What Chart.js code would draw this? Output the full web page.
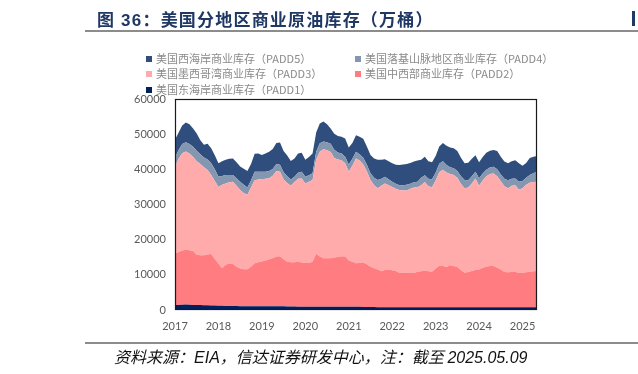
<!DOCTYPE html>
<html><head><meta charset="utf-8">
<script src="https://cdn.jsdelivr.net/npm/chart.js@4.4.0/dist/chart.umd.min.js"></script>
<style>
html,body{margin:0;padding:0;background:#fff;width:638px;height:374px;overflow:hidden;position:relative;font-family:"Noto Sans CJK SC",sans-serif;}
#c{position:absolute;left:0;top:0;}
.title{position:absolute;left:97px;top:8px;font-size:17px;font-weight:bold;color:#1F3864;letter-spacing:1.2px;white-space:nowrap;line-height:22px;font-family:"Liberation Sans","Noto Sans CJK SC",sans-serif;}
.title .cjk{font-family:"Noto Sans CJK SC",sans-serif;}
.hline{position:absolute;left:85px;right:0;height:2px;background:#8c8c8c;}
.leg{position:absolute;font-size:11px;color:#8a8a8a;white-space:nowrap;line-height:14px;font-family:"Noto Sans CJK SC",sans-serif;}
.leg i{display:inline-block;width:6px;height:6px;margin-right:4px;vertical-align:1px;}
.src{position:absolute;left:114px;top:346px;font-size:16px;font-style:italic;color:#111;white-space:nowrap;line-height:21px;font-family:"Noto Sans CJK SC",sans-serif;}
.src .lat{font-family:"Liberation Sans",sans-serif;}
.bar{position:absolute;left:632px;top:11px;width:3px;height:15px;background:#1F3864;}
</style></head>
<body>
<canvas id="c" width="638" height="374"></canvas>
<div class="title">图 36：<span class="cjk">美国分地区商业原油库存（万桶）</span></div>
<div class="bar"></div>
<div class="hline" style="top:30px"></div>
<div id="legend"></div>
<div class="hline" style="top:342px"></div>
<div class="src">资料来源：<span class="lat">EIA</span>，信达证券研发中心，注：截至 <span class="lat">2025.05.09</span></div>
<script>
const categories = [
"2017-01","2017-02","2017-03","2017-04","2017-05","2017-06","2017-07","2017-08","2017-09","2017-10","2017-11","2017-12",
"2018-01","2018-02","2018-03","2018-04","2018-05","2018-06","2018-07","2018-08","2018-09","2018-10","2018-11","2018-12",
"2019-01","2019-02","2019-03","2019-04","2019-05","2019-06","2019-07","2019-08","2019-09","2019-10","2019-11","2019-12",
"2020-01","2020-02","2020-03","2020-04","2020-05","2020-06","2020-07","2020-08","2020-09","2020-10","2020-11","2020-12",
"2021-01","2021-02","2021-03","2021-04","2021-05","2021-06","2021-07","2021-08","2021-09","2021-10","2021-11","2021-12",
"2022-01","2022-02","2022-03","2022-04","2022-05","2022-06","2022-07","2022-08","2022-09","2022-10","2022-11","2022-12",
"2023-01","2023-02","2023-03","2023-04","2023-05","2023-06","2023-07","2023-08","2023-09","2023-10","2023-11","2023-12",
"2024-01","2024-02","2024-03","2024-04","2024-05","2024-06","2024-07","2024-08","2024-09","2024-10","2024-11","2024-12",
"2025-01","2025-02","2025-03","2025-04","2025-05"];

const yearTickLabels = ["2017","2018","2019","2020","2021","2022","2023","2024","2025"];

// 美国东海岸商业库存（PADD1）
const padd1 = [
1400,1450,1500,1550,1500,1450,1400,1400,1350,1350,1300,1250,
1200,1200,1150,1150,1150,1150,1100,1100,1100,1100,1100,1100,
1100,1050,1050,1050,1050,1050,1050,1000,1000,1000,950,950,
900,900,900,950,950,950,950,950,950,950,950,950,
900,900,900,900,850,850,850,850,800,800,800,800,
800,750,750,750,750,750,750,750,750,750,750,750,
750,750,750,750,750,750,750,750,750,750,750,750,
750,750,750,750,750,750,750,750,750,750,750,750,
750,750,750,750,750];

// 美国中西部商业库存（PADD2）
const padd2 = [
14700,15050,15400,15550,15500,15350,14300,14200,14250,14450,14600,13250,
12000,10700,11750,12050,11950,11150,10700,10500,10500,11200,12200,12500,
12700,13050,13350,13650,14150,14250,13350,12700,12600,12600,12750,12550,
12500,12500,12800,15050,14250,13750,13750,13750,13950,14150,14350,14250,
13200,12800,12400,12500,12650,12150,11450,11050,10700,10200,10600,10700,
10500,10350,9750,9750,9850,9750,9750,10150,10250,10450,10250,10150,
11050,11850,11750,11450,11950,11750,11450,10550,9850,10050,10350,10650,
10750,11250,11550,11750,11750,11250,10750,10050,9950,10050,10150,9750,
9850,9950,10150,10250,10350];

// 美国墨西哥湾商业库存（PADD3）
const padd3 = [
24700,26500,27700,28000,27500,26700,26600,25900,25000,24000,22500,22200,
21800,23700,23100,23100,23400,23000,22300,21700,21200,22500,23600,23500,
23400,23200,23100,23500,24300,24000,22700,22400,21700,22800,23600,23900,
22600,23100,23300,26800,29800,31000,30700,30200,28300,27700,27300,26500,
25300,27300,29800,29100,27900,26400,24700,23600,23100,24300,24600,24000,
23700,23400,23600,23500,23400,24000,24300,24000,24500,25200,24200,24000,
25000,26600,27400,26900,26000,25900,25400,24500,24000,24000,24900,26000,
23800,24800,25700,26200,26300,26000,25100,24400,23900,24500,24600,23700,
24000,24900,25300,25400,25400];

// 美国落基山脉地区商业库存（PADD4）
const padd4 = [
2600,2500,2600,2600,2700,2900,3000,2800,2800,3000,3300,3300,
2900,2500,2400,2100,1900,2200,2400,2300,2000,2000,2400,2200,
2100,2000,2000,1900,2000,2000,2100,1900,1800,1500,1700,1900,
1900,1800,1900,2200,2400,2200,2300,2400,2400,2000,1900,1900,
2000,2000,1900,1800,1900,1900,1900,2100,2400,2000,1900,1700,
1500,1400,1400,1500,1600,1400,1500,1600,2100,1900,2100,2300,
2200,2400,2400,2100,1900,1900,1900,2200,2400,2100,2000,1900,
2200,2000,1900,1800,1900,2000,1900,2100,2300,2000,1900,2300,
2100,2000,2200,2500,2800];

// 美国西海岸商业库存（PADD5）
const padd5 = [
5000,5000,5300,5600,5600,5200,4900,4000,3600,4500,4300,4000,
3800,4200,4300,4600,4700,4500,4300,4600,4700,4700,5100,5200,
4800,5200,5500,5700,6000,6300,6000,5900,5300,5200,5500,5400,
4800,5200,5600,5500,5600,5700,5100,4300,4500,4700,4800,5200,
4800,4500,4700,5000,5400,5200,5200,5500,5700,5400,5000,5100,
5200,5400,5700,5900,5900,5900,5900,6000,5100,5300,5000,4800,
4800,4900,5200,5500,5600,5700,5700,5300,4700,5000,5000,4700,
4500,4700,4800,4800,4800,5200,5100,4900,4800,5000,5200,5200,
4300,4200,4800,4700,4500];

const seriesNames = [
"美国东海岸商业库存（PADD1）",
"美国中西部商业库存（PADD2）",
"美国墨西哥湾商业库存（PADD3）",
"美国落基山脉地区商业库存（PADD4）",
"美国西海岸商业库存（PADD5）"];
const seriesColors = ["#002060","#FF7C80","#FFABAB","#8497B0","#2F4E7D"];
const seriesValues = [padd1,padd2,padd3,padd4,padd5];

const legendLayout = [
  {idx:4,left:146,top:51},{idx:3,left:355,top:51},
  {idx:2,left:146,top:66},{idx:1,left:355,top:66},
  {idx:0,left:146,top:82}];
const legEl = document.getElementById('legend');
legendLayout.forEach(o=>{
  const d=document.createElement('div');
  d.className='leg';d.style.left=o.left+'px';d.style.top=o.top+'px';
  d.innerHTML='<i style="background:'+seriesColors[o.idx]+'"></i>'+seriesNames[o.idx];
  legEl.appendChild(d);
});

const framePlugin = {
  id:'frame',
  afterDraw(chart){
    const a=chart.chartArea, ctx=chart.ctx;
    ctx.save();ctx.strokeStyle='#1a1a1a';ctx.lineWidth=1.2;
    ctx.strokeRect(a.left+0.5,a.top+0.5,a.right-a.left-1,a.bottom-a.top-1);
    ctx.restore();
  }
};

new Chart(document.getElementById('c'),{
  type:'line',
  data:{
    labels:categories,
    datasets:seriesValues.map((v,i)=>({
      label:seriesNames[i],data:v,
      backgroundColor:seriesColors[i],borderColor:seriesColors[i],
      borderWidth:0,pointRadius:0,tension:0,
      fill:i===0?'origin':'-1'
    }))
  },
  options:{
    responsive:false,animation:false,devicePixelRatio:1,
    layout:{padding:{left:125,right:101,top:99,bottom:34}},
    plugins:{legend:{display:false},tooltip:{enabled:false}},
    scales:{
      x:{
        grid:{display:false,drawTicks:false},border:{display:false},
        ticks:{autoSkip:false,maxRotation:0,minRotation:0,padding:10,color:'#595959',
          font:{family:'Lato',size:11},
          callback:function(val,i){const c=categories[i];return c.endsWith('-01')?yearTickLabels[yearTickLabels.indexOf(c.slice(0,4))]:'';}},
        afterFit(s){s.height=30;}
      },
      y:{
        stacked:true,min:0,max:60000,
        grid:{display:false,drawTicks:false},border:{display:false},
        ticks:{stepSize:10000,padding:9,color:'#595959',font:{family:'Lato',size:11},
          callback:v=>String(v)},
        afterFit(s){s.width=50;}
      }
    }
  },
  plugins:[framePlugin]
});
</script>
</body></html>
